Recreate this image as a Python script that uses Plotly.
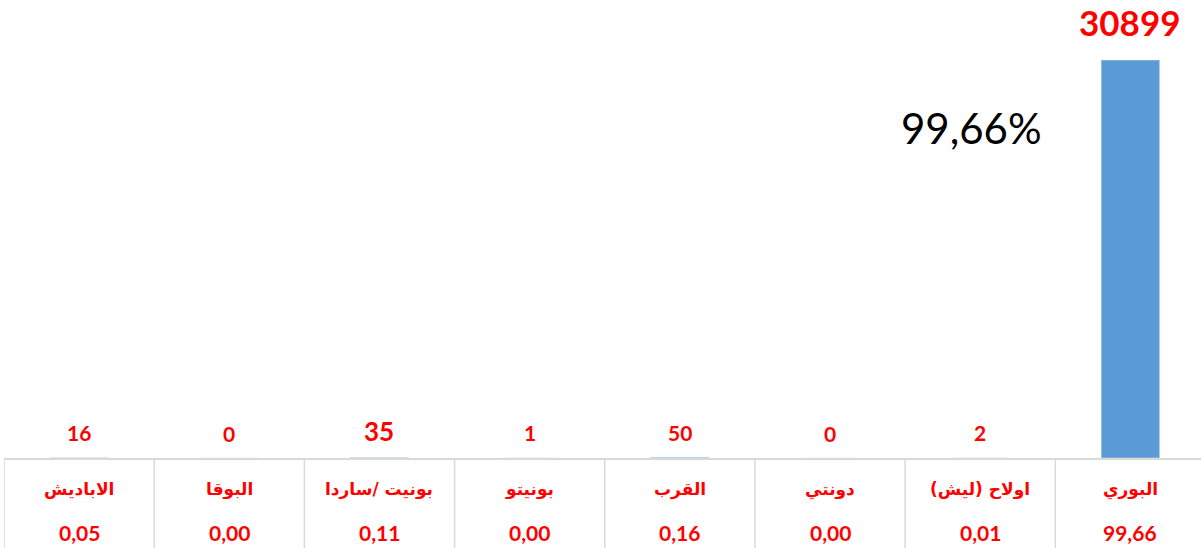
import plotly.graph_objects as go

categories = ["الاباديش", "البوقا", "بونيت /ساردا", "بونيتو", "القرب", "دونتي", "اولاح (ليش)", "البوري"]
counts = [16, 0, 35, 1, 50, 0, 2, 30899]
percent_labels = ["0,05", "0,00", "0,11", "0,00", "0,16", "0,00", "0,01", "99,66"]
count_label_sizes = [21, 21, 26, 21, 21, 21, 21, 35]
highlight_text = "99,66%"

FONT = "Lato, DejaVu Sans, sans-serif"
AR_FONT = "DejaVu Sans, sans-serif"
RED = "#ff0000"
GRID = "#d9d9d9"

fig = go.Figure()
fig.add_trace(go.Bar(
    x=categories, y=counts, marker_color="#5b9bd5", width=0.39,
    hoverinfo="x+y",
))

annotations = []
for cat, val, sz in zip(categories, counts, count_label_sizes):
    shift = 25 + (2 if sz > 21 else 0) + max(0, sz - 26) * 1.2
    annotations.append(dict(
        x=cat, y=val, xref="x", yref="y", text=f"<b>{val}</b>",
        showarrow=False, yanchor="middle", yshift=shift,
        font=dict(family=FONT, size=sz, color=RED),
    ))
for cat, pct in zip(categories, percent_labels):
    annotations.append(dict(
        x=cat, y=0, xref="x", yref="paper", text=f"<b>{cat}</b>",
        showarrow=False, yanchor="middle", yshift=-31,
        font=dict(family=AR_FONT, size=17, color=RED),
    ))
    annotations.append(dict(
        x=cat, y=0, xref="x", yref="paper", text=f"<b>{pct}</b>",
        showarrow=False, yanchor="middle", yshift=-74,
        font=dict(family=FONT, size=21, color=RED),
    ))
annotations.append(dict(
    x=0.808, y=0.72, xref="paper", yref="paper", text=highlight_text,
    showarrow=False, xanchor="center", yanchor="middle",
    font=dict(family=FONT, size=42, color="#000000"),
))

shapes = []
for i in range(len(categories) + 1):
    shapes.append(dict(
        type="line", xref="x", yref="paper", x0=i - 0.5, x1=i - 0.5,
        y0=0, y1=-0.25, line=dict(color=GRID, width=1.5), layer="below",
    ))

fig.update_layout(
    width=1201, height=548,
    margin=dict(l=4, r=0, t=0, b=90),
    paper_bgcolor="white", plot_bgcolor="white",
    showlegend=False,
    annotations=annotations, shapes=shapes,
    xaxis=dict(
        type="category", range=[-0.5, 7.47], showticklabels=False,
        showgrid=False, zeroline=False, showline=True, layer="above traces",
        linecolor=GRID, linewidth=2, ticks="", fixedrange=True,
    ),
    yaxis=dict(
        range=[0, 35557], visible=False, showgrid=False, zeroline=False,
        fixedrange=True,
    ),
)

fig.write_html(
    "out.html",
    config={"displayModeBar": False},
    post_script="document.body.style.margin='0';document.body.style.overflow='hidden';",
)
